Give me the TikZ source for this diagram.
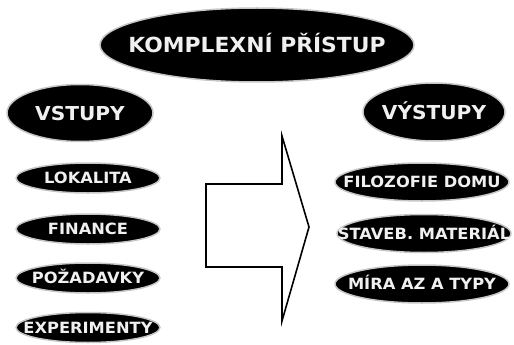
\documentclass[tikz,border=0pt]{standalone}
\usepackage{fontspec}
\setmainfont{DejaVu Sans}[FakeStretch=1.05]
\usetikzlibrary{shapes.geometric}
\tikzset{
  pill/.style={ellipse, fill=black, draw=gray!45, line width=1.5pt, inner sep=0pt,
    text=white!94!black, font=\bfseries, text depth=0pt},
  arrowshape/.style={draw=black, line width=1.6pt, fill=white, line join=miter},
}
\newcommand{\ptext}[1]{\makebox[0pt]{#1}}
\begin{document}
\begin{tikzpicture}[x=1pt,y=-1pt]
\useasboundingbox (0,0) rectangle (514,345);
% title
\node[pill, minimum width=314, minimum height=74, font=\bfseries\fontsize{20.8}{22}\selectfont, text height=15pt] (title) at (257,45) {\ptext{KOMPLEXNÍ PŘÍSTUP}};
% headers
\node[pill, minimum width=146, minimum height=57, font=\bfseries\fontsize{19.2}{21}\selectfont, text height=14pt] (vstupy) at (80,113) {\ptext{VSTUPY}};
\node[pill, minimum width=142, minimum height=58, font=\bfseries\fontsize{19.2}{21}\selectfont, text height=14pt] (vystupy) at (434,112) {\ptext{VÝSTUPY}};
% inputs
\tikzset{inp/.style={pill, minimum width=144, minimum height=30, font=\bfseries\fontsize{15.5}{17}\selectfont, text height=11.3pt}}
\node[inp] (lokalita) at (88,178) {\ptext{LOKALITA}};
\node[inp] (finance) at (88,229) {\ptext{FINANCE}};
\node[inp] (pozadavky) at (88,278) {\ptext{POŽADAVKY}};
\node[inp] (experimenty) at (88,327.5) {\ptext{EXPERIMENTY}};
% outputs
\tikzset{outp/.style={pill, minimum width=174, minimum height=38, font=\bfseries\fontsize{15.5}{17}\selectfont, text height=11.3pt}}
\node[outp] (filozofie) at (422,182) {\ptext{FILOZOFIE DOMU}};
\node[outp] (staveb) at (424,233.5) {\ptext{STAVEB. MATERIÁL}};
\node[outp] (mira) at (422,284) {\ptext{MÍRA AZ A TYPY}};
% big arrow
\draw[arrowshape] (206,184) -- (282,184) -- (282,136) -- (309,227) -- (282,321) -- (282,267) -- (206,267) -- cycle;
\end{tikzpicture}
\end{document}
